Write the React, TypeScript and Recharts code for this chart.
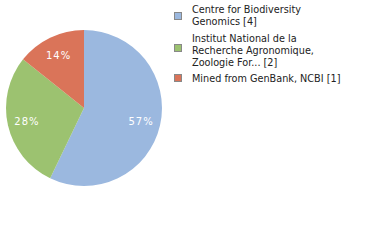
import React from "react";
import { PieChart, Pie, Cell } from "recharts";

const names = ["Centre for Biodiversity Genomics [4]", "Institut National de la Recherche Agronomique, Zoologie For... [2]", "Mined from GenBank, NCBI [1]"];
const legendLines = [["Centre for Biodiversity", "Genomics [4]"], ["Institut National de la", "Recherche Agronomique,", "Zoologie For... [2]"], ["Mined from GenBank, NCBI [1]"]];
const values = [4, 2, 1];
const percentLabels = ["57%", "28%", "14%"];
const colors = ["#9BB8DF", "#9CC270", "#DA7459"];

const data = names.map((n, i) => ({ name: n, value: values[i], label: percentLabels[i] }));

const RAD = Math.PI / 180;
const renderLabel = (p: any) => {
  const r = p.outerRadius * 0.75;
  const x = p.cx + r * Math.cos(-p.midAngle * RAD);
  const y = p.cy + r * Math.sin(-p.midAngle * RAD);
  return (
    <text x={x} y={y} fill="#fff" textAnchor="middle" dominantBaseline="central" fontFamily="DejaVu Sans" fontSize={10} letterSpacing={1}>
      {data[p.index].label}
    </text>
  );
};

const squareY = [16, 48, 78];
const lineTops = [[9.5, 21.5], [38, 50, 62], [78]];

export default function App() {
  return (
    <div style={{ position: "absolute", left: 0, top: 0, width: 380, height: 240 }}>
      <PieChart width={380} height={240} margin={{ top: 0, right: 0, bottom: 0, left: 0 }}>
        <Pie
          data={data}
          dataKey="value"
          cx={84}
          cy={108}
          outerRadius={78}
          startAngle={90}
          endAngle={-270}
          stroke="none"
          label={renderLabel}
          labelLine={false}
          isAnimationActive={false}
        >
          {data.map((d, i) => (
            <Cell key={i} fill={colors[i]} />
          ))}
        </Pie>
      </PieChart>
      <svg width={380} height={100} style={{ position: "absolute", left: 0, top: 0 }}>
        {legendLines.map((lines, i) => (
          <g key={i}>
            <rect x={174.5} y={squareY[i] - 3.5} width={7} height={7} fill={colors[i]} stroke="#888" strokeWidth={1} />
            {lines.map((t, j) => (
              <text key={j} x={192} y={lineTops[i][j]} dominantBaseline="central" fontFamily="DejaVu Sans" fontSize={9.7} fill="#222">
                {t}
              </text>
            ))}
          </g>
        ))}
      </svg>
    </div>
  );
}
